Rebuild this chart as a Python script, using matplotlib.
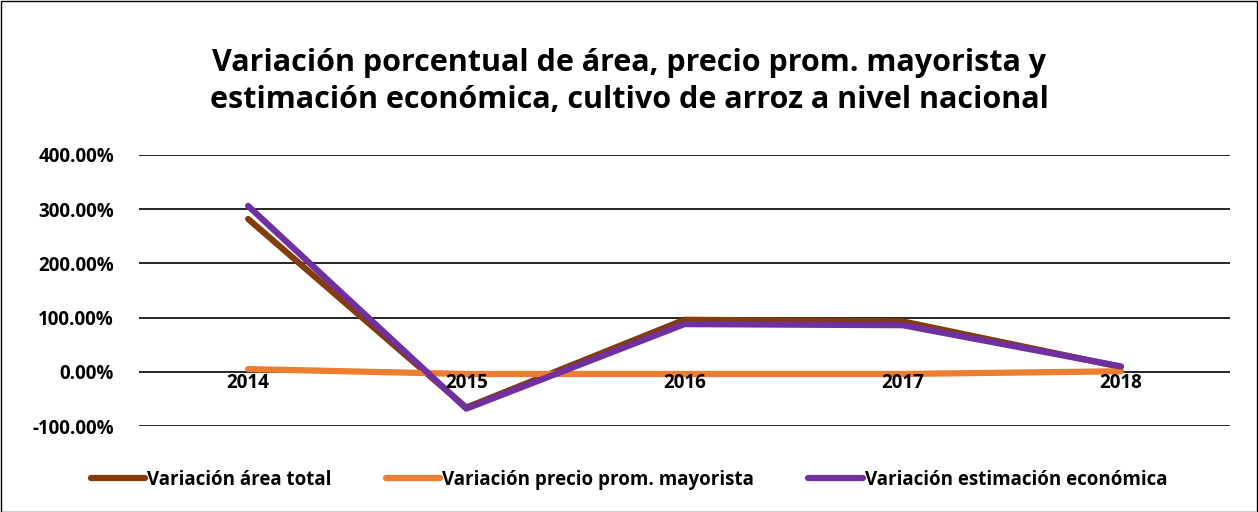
import matplotlib.pyplot as plt
from matplotlib.ticker import FuncFormatter

years = ['2014', '2015', '2016', '2017', '2018']
var_area = [2.82, -0.66, 0.96, 0.93, 0.09]
var_precio = [0.05, -0.04, -0.04, -0.04, 0.01]
var_estimacion = [3.06, -0.68, 0.88, 0.86, 0.10]

plt.rcParams['font.family'] = ['Open Sans', 'DejaVu Sans']

fig = plt.figure(figsize=(12.58, 5.12), dpi=100)
ax = fig.add_axes([139 / 1258, 1 - 426 / 512, (1230 - 139) / 1258, (426 - 155) / 512])

x = range(len(years))
ax.plot(x, var_area, color='#843C0C', lw=4.5, solid_capstyle='round', label='Variación área total')
ax.plot(x, var_precio, color='#ED7D31', lw=4.5, solid_capstyle='round', label='Variación precio prom. mayorista')
ax.plot(x, var_estimacion, color='#7030A0', lw=4.5, solid_capstyle='round', label='Variación estimación económica')

ax.set_xlim(-0.5, len(years) - 0.5)
ax.set_ylim(-1.0, 4.0)
ax.set_yticks([-1, 0, 1, 2, 3, 4])
ax.yaxis.set_major_formatter(FuncFormatter(lambda v, p: f'{v * 100:.2f}%'))
ax.grid(axis='y', color='black', lw=1.2)
ax.set_axisbelow(True)
for s in ax.spines.values():
    s.set_visible(False)
ax.tick_params(axis='y', length=0, pad=18, labelsize=13.5)
for t in ax.get_yticklabels():
    t.set_fontweight('bold')

# category labels sit just under the zero line
ax.set_xticks(list(x))
ax.set_xticklabels([])
ax.tick_params(axis='x', length=0)
for i, yr in enumerate(years):
    ax.text(i, -0.2, yr, ha='center', va='center', fontsize=13.5, fontweight='bold')

fig.suptitle('Variación porcentual de área, precio prom. mayorista y\nestimación económica, cultivo de arroz a nivel nacional',
             y=1 - 48 / 512, fontsize=22, fontweight='bold', linespacing=1.3, va='top')

fig.legend(loc='center', bbox_to_anchor=(0.5, 1 - 480 / 512), ncol=3, frameon=False,
           prop={'weight': 'bold', 'size': 13.5}, handlelength=2.9, handletextpad=0.1,
           columnspacing=2.9)

fig.patches.append(plt.Rectangle((0.5 / 1258, 0.5 / 512), 1 - 1.5 / 1258, 1 - 1.5 / 512,
                                 transform=fig.transFigure, fill=False, ec='black', lw=1))

fig.savefig('out.png', dpi=100)
